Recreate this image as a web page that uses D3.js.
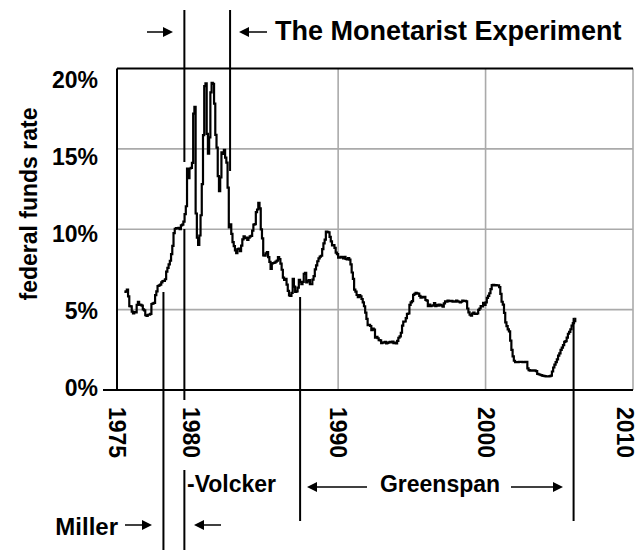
<!DOCTYPE html>
<html>
<head>
<meta charset="utf-8">
<script src="https://cdn.jsdelivr.net/npm/d3@7"></script>
<style>
  html, body { margin: 0; padding: 0; background: #fff; }
  svg { display: block; font-family: "Liberation Sans", Arial, Helvetica, sans-serif; font-weight: bold; }
</style>
</head>
<body>
<svg id="chart" width="640" height="550"></svg>
<script>
// ---- data ----
const startYear = 1975.5; // July 1975, monthly federal funds rate (%)
const fedFundsRate = [
  6.10, 6.14, 6.24, 5.82, 5.22, 5.20,
  4.87, 4.77, 4.84, 4.82, 5.29, 5.48, 5.31, 5.29, 5.25, 5.02, 4.95, 4.65,
  4.61, 4.68, 4.69, 4.73, 5.35, 5.39, 5.42, 5.90, 6.14, 6.47, 6.51, 6.56,
  6.70, 6.78, 6.79, 6.89, 7.36, 7.60, 7.81, 8.04, 8.45, 8.96, 9.76, 10.03,
  10.07, 10.06, 10.09, 10.01, 10.24, 10.29, 10.47, 10.94, 11.43, 13.77, 13.18, 13.78,
  13.82, 14.13, 17.19, 17.61, 10.98, 9.47, 9.03, 9.61, 10.87, 12.81, 15.85, 18.90,
  19.08, 15.93, 14.70, 15.72, 18.52, 19.10, 19.04, 17.82, 15.87, 15.08, 13.31, 12.37,
  13.22, 14.78, 14.68, 14.94, 14.45, 14.15, 12.59, 10.12, 10.31, 9.71, 9.20, 8.95,
  8.68, 8.51, 8.77, 8.80, 8.63, 8.98, 9.37, 9.56, 9.45, 9.48, 9.34, 9.47,
  9.56, 9.59, 9.91, 10.29, 10.32, 11.06, 11.23, 11.64, 11.30, 9.99, 9.43, 8.38,
  8.35, 8.50, 8.58, 8.27, 7.97, 7.53, 7.88, 7.90, 7.92, 7.99, 8.05, 8.27,
  8.14, 7.86, 7.48, 6.99, 6.85, 6.92, 6.56, 6.17, 5.89, 5.85, 6.04, 6.91,
  6.43, 6.10, 6.13, 6.37, 6.85, 6.73, 6.58, 6.73, 7.22, 7.29, 6.69, 6.77,
  6.83, 6.58, 6.58, 6.87, 7.09, 7.51, 7.75, 8.01, 8.19, 8.30, 8.35, 8.76,
  9.12, 9.36, 9.85, 9.84, 9.81, 9.53, 9.24, 8.99, 9.02, 8.84, 8.55, 8.45,
  8.23, 8.24, 8.28, 8.26, 8.18, 8.29, 8.15, 8.13, 8.20, 8.11, 7.81, 7.31,
  6.91, 6.25, 6.12, 5.91, 5.78, 5.90, 5.82, 5.66, 5.45, 5.21, 4.81, 4.43,
  4.03, 4.06, 3.98, 3.73, 3.82, 3.76, 3.25, 3.30, 3.22, 3.10, 3.09, 2.92,
  2.95, 2.96, 3.00, 2.90, 2.93, 2.97, 2.99, 2.96, 3.01, 2.92, 2.95, 2.90,
  3.05, 3.25, 3.34, 3.56, 4.01, 4.25, 4.26, 4.47, 4.73, 4.76, 5.29, 5.45,
  5.53, 5.92, 5.98, 6.05, 6.01, 6.00, 5.85, 5.74, 5.80, 5.76, 5.80, 5.60,
  5.56, 5.22, 5.31, 5.22, 5.24, 5.27, 5.40, 5.22, 5.30, 5.24, 5.31, 5.29,
  5.25, 5.19, 5.39, 5.51, 5.50, 5.56, 5.52, 5.54, 5.54, 5.50, 5.52, 5.50,
  5.56, 5.51, 5.49, 5.45, 5.49, 5.56, 5.54, 5.55, 5.51, 5.07, 4.83, 4.68,
  4.63, 4.76, 4.81, 4.74, 4.74, 4.76, 4.99, 5.07, 5.22, 5.20, 5.42, 5.30,
  5.45, 5.73, 5.85, 6.02, 6.27, 6.53, 6.54, 6.50, 6.52, 6.51, 6.51, 6.40,
  5.98, 5.49, 5.31, 4.80, 4.21, 3.97, 3.77, 3.65, 3.07, 2.49, 2.09, 1.82,
  1.73, 1.74, 1.73, 1.75, 1.75, 1.75, 1.73, 1.74, 1.75, 1.75, 1.34, 1.24,
  1.20, 1.22, 1.21, 1.22, 1.20, 1.18, 1.00, 0.98, 0.95, 0.92, 0.90, 0.88,
  0.86, 0.85, 0.85, 0.84, 0.86, 0.90, 1.15, 1.40, 1.58, 1.74, 1.91, 2.14,
  2.28, 2.50, 2.63, 2.79, 3.00, 3.04, 3.26, 3.50, 3.62, 3.78, 4.00, 4.16,
  4.29, 4.49
];
const xTicks = [1975, 1980, 1990, 2000, 2010];
const xGrid = [1990, 2000, 2010];
const yTicks = [0, 5, 10, 15, 20];
const yGrid = [5, 10, 15];
const yTitle = "federal funds rate";
const titleText = "The Monetarist Experiment";
// event dates (decimal years)
const millerStart = 1978.15;
const volckerStart = 1979.57;
const monetaristEnd = 1982.67;
const greenspanStart = 1987.42;
const greenspanEnd = 2005.97;

// ---- scales ----
const svg = d3.select("#chart");
const x = d3.scaleLinear().domain([1975, 2010]).range([117, 633]);
const y = d3.scaleLinear().domain([0, 20]).range([390, 68.5]);
const yLab = d3.scaleLinear().domain([0, 20]).range([388.5, 80.5]);

const series = fedFundsRate.map((v, i) => ({ t: startYear + i / 12, v }));

// ---- grid ----
const grid = svg.append("g").attr("stroke", "#aaa").attr("stroke-width", 1.6).attr("fill", "none");
grid.selectAll("line.h").data(yGrid).join("line").attr("class", "h")
  .attr("x1", x(1975)).attr("x2", x(2010)).attr("y1", d => y(d)).attr("y2", d => y(d));
grid.selectAll("line.v").data(xGrid).join("line").attr("class", "v")
  .attr("x1", d => x(d)).attr("x2", d => x(d)).attr("y1", y(0)).attr("y2", y(20));

// ---- frame ----
const frame = svg.append("g").attr("stroke", "#000").attr("stroke-width", 2);
frame.append("line").attr("x1", x(1975)).attr("x2", x(2010)).attr("y1", y(20)).attr("y2", y(20));
frame.append("line").attr("x1", x(1975)).attr("x2", x(1975)).attr("y1", y(20)).attr("y2", y(0));
frame.append("line").attr("x1", x(1975) - 14).attr("x2", x(2010)).attr("y1", y(0)).attr("y2", y(0));

// ---- data line ----
const line = d3.line().x(d => x(d.t)).y(d => y(d.v)).curve(d3.curveStepAfter);
svg.append("path").datum(series)
  .attr("d", line).attr("fill", "none").attr("stroke", "#000")
  .attr("stroke-width", 2.2).attr("stroke-linejoin", "miter");

// ---- axes labels ----
const yAxis = svg.append("g").attr("transform", "translate(98,0)")
  .call(d3.axisLeft(yLab).tickValues(yTicks).tickFormat(d => d + "%").tickSize(0).tickPadding(0));
yAxis.select(".domain").remove();
yAxis.attr("font-family", null).attr("font-size", null);
yAxis.selectAll("text").attr("font-size", 23).attr("font-weight", "bold").attr("fill", "#000");

const xAxis = svg.append("g")
  .call(d3.axisBottom(x).tickValues(xTicks).tickFormat(d3.format("d")).tickSize(0));
xAxis.select(".domain").remove();
xAxis.attr("font-family", null).attr("font-size", null);
xAxis.selectAll("text")
  .attr("x", 0).attr("y", 0).attr("dy", "0.36em")
  .attr("text-anchor", "start")
  .attr("font-size", 23).attr("font-weight", "bold").attr("fill", "#000")
  .attr("transform", d => `translate(${d === 2010 ? -8 : 0},407) rotate(90)`);

svg.append("text")
  .attr("transform", "translate(37,204) rotate(-90)")
  .attr("text-anchor", "middle").attr("font-size", 23).text(yTitle);

// ---- annotations ----
const ann = svg.append("g").attr("stroke", "#000").attr("stroke-width", 2);
function vseg(t, y1, y2) {
  ann.append("line").attr("x1", x(t)).attr("x2", x(t)).attr("y1", y1).attr("y2", y2);
}
vseg(millerStart, 292, 550);
vseg(volckerStart, 10, 162);
vseg(volckerStart, 229, 400);
vseg(volckerStart, 470, 550);
vseg(monetaristEnd, 10, 171);
vseg(greenspanStart, 297, 521);
vseg(greenspanEnd, y(series[series.length - 1].v), 521);

function arrow(x1, y0, x2) {
  const dir = Math.sign(x2 - x1);
  const g = svg.append("g");
  g.append("line").attr("x1", x1).attr("x2", x2 - dir * 6).attr("y1", y0).attr("y2", y0)
    .attr("stroke", "#000").attr("stroke-width", 1.5);
  g.append("path")
    .attr("d", `M${x2},${y0} L${x2 - dir * 10},${y0 - 5} L${x2 - dir * 10},${y0 + 5} Z`)
    .attr("fill", "#000");
}
arrow(147, 32, 173);
arrow(267, 32, 239);
svg.append("text").attr("x", 275).attr("y", 40).attr("font-size", 27).text(titleText);

svg.append("text").attr("x", 187).attr("y", 492).attr("font-size", 23).text("-Volcker");
svg.append("text").attr("x", 440).attr("y", 492).attr("text-anchor", "middle").attr("font-size", 23).text("Greenspan");
arrow(367, 487, 307);
arrow(511, 487, 563);
svg.append("text").attr("x", 118).attr("y", 535).attr("text-anchor", "end").attr("font-size", 24).text("Miller");
arrow(125, 525, 152);
arrow(221, 525, 194);
</script>
</body>
</html>
